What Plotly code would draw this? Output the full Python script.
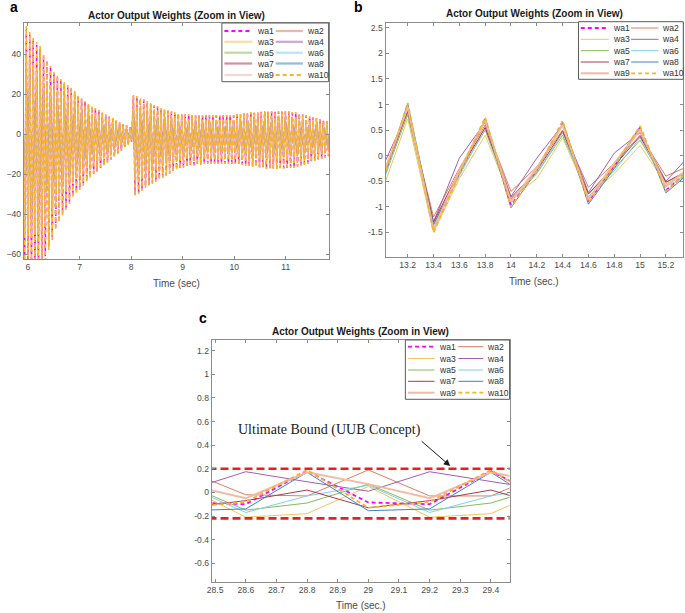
import numpy as np
import plotly.graph_objects as go

W, H = 685, 613

# ---------------- data ----------------
series_names = ["wa1", "wa2", "wa3", "wa4", "wa5", "wa6", "wa7", "wa8", "wa9", "wa10"]

# Panel a: fast oscillation, each cycle = one peak then one trough
a_t0, a_dt = 5.90, 0.067          # time of first peak, spacing between peaks
a_peaks = [20, 54, 51, 48, 46, 44, 40, 37, 34, 31, 29.5, 27.5, 26, 24.5, 23.5, 21.5, 19.5, 18,
           16.5, 15, 14, 13, 12, 11, 10, 9, 8, 7, 6, 5, 4.5, 3.5,
           19.5, 19, 18, 17.5, 16.5, 15.5, 14.5, 14, 13, 12.5, 12, 11.5, 11, 10.5, 10, 10, 10,
           9.5, 9.5, 9.5, 9.5, 9.5, 9.5, 9.5, 9.5, 9.5, 9.5, 9.5, 9.5, 9.5, 10, 10, 10.5, 10.5,
           11, 11, 11, 11.5, 11.5, 11.5, 11.5, 11.5, 11.5, 11.5, 11.5, 11.5, 11, 11, 10.5, 10,
           9.5, 9, 8.5, 8, 7.5, 7, 6.5, 6]
a_troughs = [-70, -70, -70, -70, -70, -68, -63, -58, -53, -48, -44, -41, -38, -35, -32, -30,
             -28, -26, -24, -22, -20.5, -19, -17.5, -16, -14.5, -13, -11.5, -10, -8.5, -7, -5.5, -4,
             -31, -30, -28.5, -27, -26, -25, -24, -23, -22, -21, -20, -19, -18, -17.5, -17, -16.5,
             -16, -16, -15.5, -15.5, -15, -15, -15, -15, -15, -15, -15, -15, -15, -15, -15.5, -15.5,
             -16, -16, -16.5, -16.5, -17, -17, -17.5, -17.5, -17.5, -17.5, -17.5, -17.5, -17.5,
             -17, -17, -16.5, -16, -15.5, -15, -14, -13.5, -13, -12.5, -12, -11.5, -11]
# relative amplitude of each weight in panel a
a_gain = [0.97, 0.55, 0.50, 0.60, 0.55, 0.60, 0.60, 0.65, 0.72, 1.00]

# Panel b
b_t = [13.0, 13.2, 13.4, 13.6, 13.8, 14.0, 14.2, 14.4, 14.6, 14.8, 15.0, 15.2, 15.4]
b_wa1 = [-0.50, 0.95, -1.45, -0.35, 0.72, -0.97, -0.30, 0.65, -0.90, -0.20, 0.55, -0.68, -0.25]
b_wa2 = [-0.40, 0.85, -1.20, -0.25, 0.60, -0.70, -0.22, 0.50, -0.62, -0.15, 0.40, -0.40, -0.18]
b_wa3 = [-0.70, 0.72, -1.50, -0.45, 0.40, -0.85, -0.45, 0.35, -0.80, -0.35, 0.20, -0.55, -0.35]
b_wa4 = [-0.25, 0.85, -1.30, -0.05, 0.65, -0.80, -0.05, 0.60, -0.72, 0.05, 0.45, -0.50, 0.05]
b_wa5 = [-0.55, 0.80, -1.35, -0.35, 0.50, -0.85, -0.35, 0.40, -0.75, -0.25, 0.30, -0.52, -0.30]
b_wa6 = [-0.60, 0.90, -1.40, -0.40, 0.55, -0.90, -0.35, 0.45, -0.80, -0.30, 0.35, -0.60, -0.35]
b_wa7 = [-0.50, 0.88, -1.30, -0.30, 0.55, -0.82, -0.30, 0.48, -0.75, -0.20, 0.38, -0.52, -0.25]
b_wa8 = [-0.55, 1.02, -1.35, -0.35, 0.70, -1.02, -0.30, 0.62, -0.95, -0.25, 0.55, -0.73, -0.30]
b_wa9 = [-0.45, 0.95, -1.45, -0.30, 0.70, -0.90, -0.25, 0.60, -0.85, -0.15, 0.50, -0.60, -0.20]
b_wa10 = [-0.55, 1.03, -1.50, -0.35, 0.75, -1.00, -0.30, 0.68, -0.92, -0.20, 0.58, -0.70, -0.25]

# Panel c
c_t = [28.4, 28.6, 28.8, 29.0, 29.2, 29.4, 29.6]
c_wa1 = [-0.085, -0.10, 0.18, -0.085, -0.10, 0.18, -0.085]
c_wa2 = [0.19, -0.02, -0.03, 0.19, -0.03, -0.03, 0.19]
c_wa3 = [0.05, -0.21, -0.18, 0.05, -0.21, -0.18, 0.05]
c_wa4 = [0.01, 0.175, 0.09, 0.01, 0.175, 0.09, 0.01]
c_wa5 = [0.07, -0.15, -0.09, 0.07, -0.15, -0.09, 0.07]
c_wa6 = [0.06, -0.17, -0.03, 0.06, -0.17, -0.03, 0.06]
c_wa7 = [-0.13, -0.07, 0.02, -0.13, -0.07, 0.02, -0.13]
c_wa8 = [-0.155, -0.14, 0.17, -0.155, -0.14, 0.17, -0.155]
c_wa9 = [0.07, -0.05, 0.17, 0.07, -0.05, 0.17, 0.07]
c_wa10 = [-0.13, -0.08, 0.19, -0.13, -0.08, 0.19, -0.13]
c_bound_upper = 0.20
c_bound_lower = -0.22
c_bound_x = [28.4, 29.6]

# tick labels
a_xticks = [6, 7, 8, 9, 10, 11]
a_yticks = [-60, -40, -20, 0, 20, 40]
b_xticks = [13.2, 13.4, 13.6, 13.8, 14.0, 14.2, 14.4, 14.6, 14.8, 15.0, 15.2]
b_xlabels = ["13.2", "13.4", "13.6", "13.8", "14", "14.2", "14.4", "14.6", "14.8", "15", "15.2"]
b_yticks = [-1.5, -1, -0.5, 0, 0.5, 1, 1.5, 2, 2.5]
b_ylabels = ["-1.5", "-1", "-0.5", "0", "0.5", "1", "1.5", "2", "2.5"]
c_xticks = [28.5, 28.6, 28.7, 28.8, 28.9, 29.0, 29.1, 29.2, 29.3, 29.4]
c_xlabels = ["28.5", "28.6", "28.7", "28.8", "28.9", "29", "29.1", "29.2", "29.3", "29.4"]
c_yticks = [-0.6, -0.4, -0.2, 0, 0.2, 0.4, 0.6, 0.8, 1.0, 1.2]
c_ylabels = ["-0.6", "-0.4", "-0.2", "0", "0.2", "0.4", "0.6", "0.8", "1", "1.2"]

title_text = "Actor Output Weights (Zoom in View)"
bound_text = "Ultimate Bound (UUB Concept)"

# ---------------- styles ----------------
colors = ["#FF00FF", "#DE7D5E", "#F0C55A", "#A35DB3", "#86BB55",
          "#7CCFF0", "#AE384C", "#3A84C4", "#F2B9A3", "#F4B42C"]
dashes = ["4px,3px", "solid", "solid", "solid", "solid",
          "solid", "solid", "solid", "solid", "4px,3px"]
widths_b = [1.8, 1.0, 1.0, 1.0, 1.0, 1.0, 1.0, 1.0, 2.0, 1.8]
widths_a = [1.5, 1.1, 1.1, 1.1, 1.1, 1.1, 1.1, 1.1, 1.5, 1.6]


def px(x):
    return x / W


def py(y):
    return 1 - y / H


fig = go.Figure()

# panel a traces: peaks and troughs alternate, half a period apart
n_cyc = len(a_peaks)
t_peak = a_t0 + a_dt * np.arange(n_cyc)
a_t = np.empty(2 * n_cyc)
a_t[0::2] = t_peak
a_t[1::2] = t_peak + a_dt / 2
a_base = np.empty(2 * n_cyc)
a_base[0::2] = a_peaks
a_base[1::2] = a_troughs
for k, name in enumerate(series_names):
    fig.add_trace(go.Scatter(x=a_t, y=a_base * a_gain[k], mode="lines", name=name,
                             line=dict(color=colors[k], width=widths_a[k], dash=dashes[k]),
                             xaxis="x", yaxis="y", showlegend=False, hoverinfo="skip"))

b_data = [b_wa1, b_wa2, b_wa3, b_wa4, b_wa5, b_wa6, b_wa7, b_wa8, b_wa9, b_wa10]
for k, name in enumerate(series_names):
    fig.add_trace(go.Scatter(x=b_t, y=b_data[k], mode="lines", name=name,
                             line=dict(color=colors[k], width=widths_b[k], dash=dashes[k]),
                             xaxis="x2", yaxis="y2", showlegend=False))

c_data = [c_wa1, c_wa2, c_wa3, c_wa4, c_wa5, c_wa6, c_wa7, c_wa8, c_wa9, c_wa10]
for k, name in enumerate(series_names):
    fig.add_trace(go.Scatter(x=c_t, y=c_data[k], mode="lines", name=name,
                             line=dict(color=colors[k], width=widths_b[k], dash=dashes[k]),
                             xaxis="x3", yaxis="y3", showlegend=False))
for yb in (c_bound_upper, c_bound_lower):
    fig.add_trace(go.Scatter(x=c_bound_x, y=[yb, yb], mode="lines",
                             line=dict(color="#EE1C1C", width=2.6, dash="8px,4px"),
                             xaxis="x3", yaxis="y3", showlegend=False))

# ---------------- axes ----------------
axis_common = dict(showline=True, linecolor="#8C8C8C", linewidth=1, mirror="ticks",
                   ticks="inside", ticklen=3, tickcolor="#8C8C8C", showgrid=False,
                   zeroline=False, tickfont=dict(family="Liberation Sans, Arial", size=8.6, color="#4A4A4A"))

boxes = {
    "a": (19, 326, 23, 259),
    "b": (383.3, 683.3, 22.7, 256.7),
    "c": (208.3, 508.3, 340, 581.7),
}


def dom(b):
    x0, x1, y0, y1 = b
    return [px(x0), px(x1)], [py(y1), py(y0)]


dxa, dya = dom(boxes["a"])
dxb, dyb = dom(boxes["b"])
dxc, dyc = dom(boxes["c"])

fig.update_layout(
    xaxis=dict(domain=dxa, range=[5.92, 11.83], tickvals=a_xticks, anchor="y", **axis_common),
    yaxis=dict(domain=dya, range=[-62.5, 55.5], tickvals=a_yticks, anchor="x", **axis_common),
    xaxis2=dict(domain=dxb, range=[13.028, 15.335], tickvals=b_xticks, ticktext=b_xlabels,
                anchor="y2", **axis_common),
    yaxis2=dict(domain=dyb, range=[-1.977, 2.6], tickvals=b_yticks, ticktext=b_ylabels,
                anchor="x2", **axis_common),
    xaxis3=dict(domain=dxc, range=[28.489, 29.461], tickvals=c_xticks, ticktext=c_xlabels,
                anchor="y3", **axis_common),
    yaxis3=dict(domain=dyc, range=[-0.756, 1.29], tickvals=c_yticks, ticktext=c_ylabels,
                anchor="x3", **axis_common),
)

annotations = []
shapes = []

# titles, x labels, panel letters
for key, xlab, lab_y in (("a", "Time (sec)", 283.3), ("b", "Time (sec.)", 281), ("c", "Time (sec.)", 605)):
    x0, x1, y0, y1 = boxes[key]
    cx = (x0 + x1) / 2
    ty = {"a": 15, "b": 13.3, "c": 331.7}[key]
    annotations.append(dict(x=px(cx), y=py(ty), xref="paper", yref="paper", text="<b>" + title_text + "</b>",
                            showarrow=False, xanchor="center", yanchor="middle",
                            font=dict(family="Liberation Sans, Arial", size=10, color="#1A1A1A")))
    annotations.append(dict(x=px(cx), y=py(lab_y), xref="paper", yref="paper", text=xlab,
                            showarrow=False, xanchor="center", yanchor="middle",
                            font=dict(family="Liberation Sans, Arial", size=10, color="#4A4A4A")))

for letter, lx, ly in (("a", 3, 7), ("b", 349.5, 7.5), ("c", 193, 318)):
    annotations.append(dict(x=px(lx), y=py(ly), xref="paper", yref="paper", text="<b>" + letter + "</b>",
                            showarrow=False, xanchor="left", yanchor="middle",
                            font=dict(family="Liberation Sans, Arial", size=14, color="#000000")))

# manual legends (two columns)
legends = {
    "a": dict(box=(218.5, 326, 23, 81.7), rows=[31, 41.8, 52.7, 63.5, 75],
              c1=(221, 249), t1=251.5, c2=(272.7, 300), t2=302.5, faded=True),
    "b": dict(box=(577.7, 683.3, 21.7, 79.3), rows=[28, 39.3, 50.7, 62, 73.3],
              c1=(580, 608.3), t1=610.5, c2=(630.7, 658.3), t2=660, faded=False),
    "c": dict(box=(403.3, 508.3, 340, 399.3), rows=[346.7, 358.5, 370, 381.3, 392.7],
              c1=(406, 432.7), t1=435.5, c2=(456.7, 481.7), t2=483.5, faded=False),
}
for key, L in legends.items():
    bx0, bx1, by0, by1 = L["box"]
    shapes.append(dict(type="rect", xref="paper", yref="paper", x0=px(bx0), x1=px(bx1),
                       y0=py(by1), y1=py(by0), line=dict(color="#5A5A5A", width=1),
                       fillcolor="white", layer="above"))
    for k, name in enumerate(series_names):
        row = L["rows"][k // 2]
        (lx0, lx1), tx = (L["c1"], L["t1"]) if k % 2 == 0 else (L["c2"], L["t2"])
        w = widths_b[k]
        op = 1.0
        if L["faded"] and k not in (0, 9):
            w, op = 2.2, 0.55
        shapes.append(dict(type="line", xref="paper", yref="paper", x0=px(lx0), x1=px(lx1),
                           y0=py(row), y1=py(row), opacity=op,
                           line=dict(color=colors[k], width=w, dash=dashes[k]), layer="above"))
        annotations.append(dict(x=px(tx), y=py(row), xref="paper", yref="paper", text=name,
                                showarrow=False, xanchor="left", yanchor="middle",
                                font=dict(family="Liberation Sans, Arial", size=8.6, color="#333333")))

# UUB annotation + arrow
annotations.append(dict(x=px(326.7), y=py(430), xref="paper", yref="paper", text=bound_text,
                        showarrow=False, xanchor="center", yanchor="middle",
                        font=dict(family="Liberation Serif, Times New Roman", size=14, color="#1A1A1A")))
annotations.append(dict(x=px(448.5), y=py(466), xref="paper", yref="paper", text="",
                        showarrow=True, ax=-30, ay=-26, axref="pixel", ayref="pixel",
                        arrowhead=2, arrowsize=1.3, arrowwidth=1, arrowcolor="#1A1A1A"))

fig.update_layout(width=W, height=H, margin=dict(l=0, r=0, t=0, b=0),
                  paper_bgcolor="white", plot_bgcolor="white",
                  annotations=annotations, shapes=shapes, showlegend=False)

fig.write_html("out.html", config={"displayModeBar": False},
               post_script="document.body.style.margin='0px';document.body.style.padding='0px';"
                           "document.body.style.overflow='hidden';")
